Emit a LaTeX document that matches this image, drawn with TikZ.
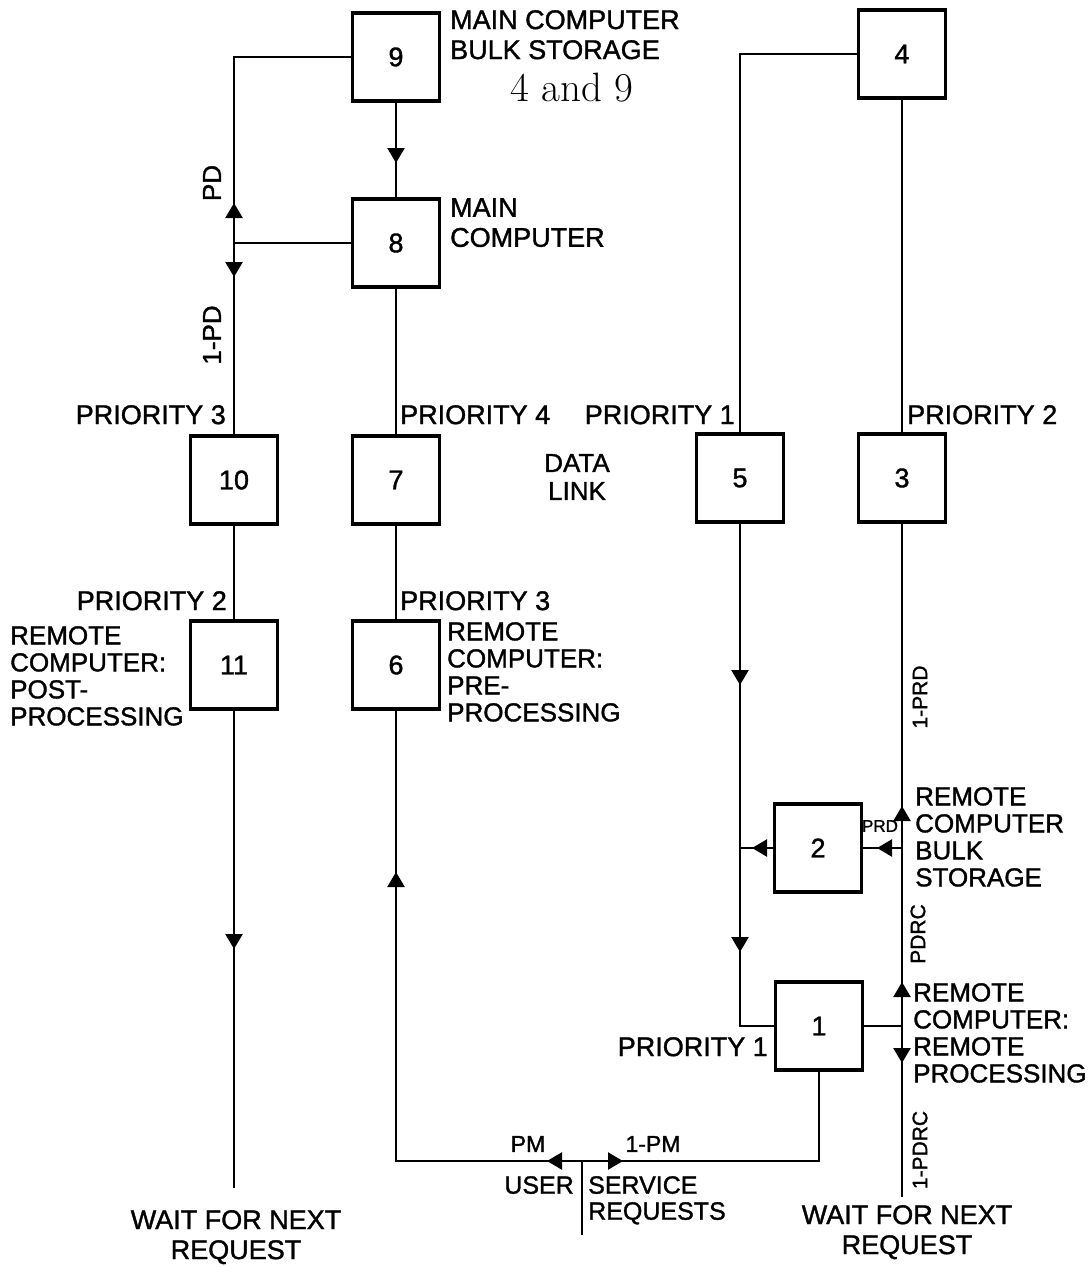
\documentclass[tikz,border=0pt]{standalone}
\usepackage{fontspec}
\setsansfont{Liberation Sans}[FakeBold=1.3]
\usetikzlibrary{arrows.meta,decorations.markings}
\newcommand\fz[2]{\fontsize{#1}{#2}\selectfont}
\tikzset{
  blk/.style={draw, line width=3.4pt, minimum width=87pt, minimum height=88pt,
    inner sep=0pt, outer sep=0pt, font=\sffamily\fz{27}{27}},
  conn/.style={line width=2.4pt},
  lbl/.style={inner sep=0pt, align=left, font=\sffamily\fz{27}{30}},
  lblr/.style={inner sep=0pt, align=left, font=\sffamily\fz{26}{27}},
  rot/.style={inner sep=0pt, rotate=90, font=\sffamily\fz{#1}{#1}},
  arr/.style={postaction={decorate,decoration={markings,
    mark=at position #1 with {\arrow{Triangle[width=17pt,length=15pt]}}}}},
  rarr/.style={postaction={decorate,decoration={markings,
    mark=at position #1 with {\arrowreversed{Triangle[width=17pt,length=15pt]}}}}},
}
\begin{document}
\begin{tikzpicture}[x=1pt,y=-1pt]
\path[use as bounding box, fill=white] (0,0) rectangle (1090,1267);
% boxes
\node[blk] (b9) at (396,57) {9};
\node[blk] (b8) at (396,243) {8};
\node[blk] (b4) at (902,54) {4};
\node[blk] (b10) at (234,480) {10};
\node[blk] (b7) at (396,480) {7};
\node[blk] (b5) at (740,478) {5};
\node[blk] (b3) at (902,478) {3};
\node[blk] (b11) at (234,665) {11};
\node[blk] (b6) at (396,665) {6};
\node[blk] (b2) at (818,848) {2};
\node[blk] (b1) at (819,1026) {1};
% free ends and junctions
\coordinate (wl) at (234,1188);
\coordinate (junc) at (582,1161);
\coordinate (usr) at (582,1235);
\coordinate (j2) at (902,848);
\coordinate (j1) at (902,1024);
\coordinate (wr) at (902,1197);
% connectors
\draw[conn, rarr=264.5pt, arr=338.5pt] (b9.west) -| (b10.north);
\draw[conn] (b8.west) -- (b8.west -| b10.north);
\draw[conn] (b10.south) -- (b11.north);
\draw[conn, arr=240pt] (b11.south) -- (wl);
\draw[conn, arr=62pt] (b9.south) -- (b8.north);
\draw[conn] (b8.south) -- (b7.north);
\draw[conn] (b7.south) -- (b6.north);
\draw[conn, arr=35pt, arr=475pt] (junc) -| (b6.south);
\draw[conn, arr=41pt] (junc) -| (b1.south);
\draw[conn] (junc) -- (usr);
\draw[conn] (b4.west) -| (b5.north);
\draw[conn, arr=163pt, arr=430pt] (b5.south) |- (b1.west);
\draw[conn, arr=22.5pt] (b2.west) -- (b2.west -| b5.south);
\draw[conn] (b4.south) -- (b3.north);
\draw[conn, rarr=284pt] (b3.south) -- (j2);
\draw[conn, rarr=134pt] (j2) -- (j1);
\draw[conn, arr=39pt] (j1) -- (wr);
\draw[conn, arr=25pt] (j2) -- (b2.east);
\draw[conn] (b1.east) -- (b1.east -| j1);
% labels
\node[lbl, anchor=north west] (t9) at (450,10) {MAIN COMPUTER\\BULK STORAGE};
\node[inner sep=0pt, font=\rmfamily\fz{41}{41}] (t49) at (572,88) {4 and 9};
\node[lbl, anchor=north west] (t8) at (450,198) {MAIN\\COMPUTER};
\node[lbl, anchor=north east] (p10) at (226,405) {PRIORITY 3};
\node[lbl, anchor=north west] (p7) at (400,405) {PRIORITY 4};
\node[inner sep=0pt, align=center, font=\sffamily\fz{26}{28}] (tdl) at (577,477) {DATA\\LINK};
\node[lbl, anchor=north east] (p5) at (735,405) {PRIORITY 1};
\node[lbl, anchor=north west] (p3) at (907,405) {PRIORITY 2};
\node[lbl, anchor=north east] (p11) at (227,591) {PRIORITY 2};
\node[lbl, anchor=north west] (p6) at (400,591) {PRIORITY 3};
\node[lblr, anchor=north west] (t11) at (10,626) {REMOTE\\COMPUTER:\\POST-\\PROCESSING};
\node[lblr, anchor=north west] (t6) at (447,622) {REMOTE\\COMPUTER:\\PRE-\\PROCESSING};
\node[inner sep=0pt, font=\sffamily\fz{17}{17}] (tprd) at (880,826) {PRD};
\node[lblr, anchor=north west] (t2) at (915,787) {REMOTE\\COMPUTER\\BULK\\STORAGE};
\node[lblr, anchor=north west] (t1) at (913,983) {REMOTE\\COMPUTER:\\REMOTE\\PROCESSING};
\node[lbl, anchor=north east] (p1) at (768,1037) {PRIORITY 1};
\node[rot=26] (tpd) at (212,183) {PD};
\node[rot=26] (tipd) at (212,335) {1-PD};
\node[rot=21] (tiprd) at (920,697) {1-PRD};
\node[rot=21] (tpdrc) at (918,934) {PDRC};
\node[rot=21] (tipdrc) at (920,1150) {1-PDRC};
\node[inner sep=0pt, font=\sffamily\fz{23}{23}] (tpm) at (528,1144) {PM};
\node[inner sep=0pt, font=\sffamily\fz{23}{23}] (tipm) at (653,1144) {1-PM};
\node[inner sep=0pt, anchor=north east, font=\sffamily\fz{25}{26}] (tuser) at (574,1176) {USER};
\node[inner sep=0pt, anchor=north west, align=left, font=\sffamily\fz{25}{26}] (tsr) at (588,1176) {SERVICE\\REQUESTS};
\node[inner sep=0pt, anchor=north, align=center, font=\sffamily\fz{27}{30}] (twl) at (236,1210) {WAIT FOR NEXT\\REQUEST};
\node[inner sep=0pt, anchor=north, align=center, font=\sffamily\fz{27}{30}] (twr) at (907,1205) {WAIT FOR NEXT\\REQUEST};
\end{tikzpicture}
\end{document}
